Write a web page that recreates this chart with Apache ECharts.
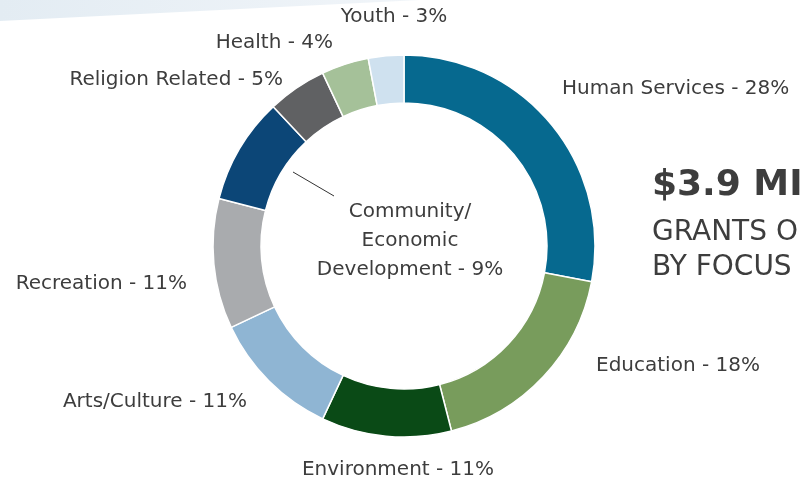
<!DOCTYPE html>
<html>
<head>
<meta charset="utf-8">
<script src="https://cdn.jsdelivr.net/npm/echarts@6/dist/echarts.min.js"></script>
<style>
html,body{margin:0;padding:0;background:#fff;}
#chart{width:809px;height:485px;}
</style>
</head>
<body>
<div id="chart"></div>
<script>
// Data
var categories = ['Human Services','Education','Environment','Arts/Culture','Recreation','Community/\nEconomic\nDevelopment','Religion Related','Health','Youth'];
var shares = [28, 18, 11, 11, 11, 9, 5, 4, 3];
var headline = '$3.9 MI';
var subLines = ['GRANTS O', 'BY FOCUS'];

// Styles
var colors = ['#06698f','#789c5c','#0a4a16','#8fb5d3','#a9abae','#0c4677','#606163','#a5c199','#cfe1ef'];
var labelPos = [
  {x:562, y:89, align:'left'},
  {x:596, y:366, align:'left'},
  {x:398, y:470, align:'center'},
  {x:247, y:402, align:'right'},
  {x:187, y:284, align:'right'},
  {x:410, y:241, align:'center'},
  {x:283, y:80, align:'right'},
  {x:333, y:43, align:'right'},
  {x:394, y:17, align:'center'}
];
var FONT = 'DejaVu Sans';
var TXT = '#3d3d3d';

var chart = echarts.init(document.getElementById('chart'), null, {renderer:'canvas'});
var data = categories.map(function(c,i){
  return {name:c, value:shares[i], itemStyle:{color:colors[i]}};
});
chart.setOption({
  backgroundColor:'#ffffff',
  animation:false,
  graphic:[
    {type:'polygon', z:-10, shape:{points:[[0,0],[420,0],[0,21]]},
     style:{fill:new echarts.graphic.LinearGradient(0,0,1,0,[{offset:0,color:'#e3ecf3'},{offset:1,color:'#f1f5f9'}])}},
    {type:'line', shape:{x1:293,y1:172,x2:334,y2:196}, style:{stroke:'#333',lineWidth:1}},
    {type:'text', left:652, top:168, style:{text:headline, fill:'#3d3d3d', font:'bold 36px "DejaVu Sans"'}},
    {type:'text', left:652, top:215, style:{text:subLines[0]+'\n'+subLines[1], fill:'#3d3d3d', font:'28px "DejaVu Sans"', lineHeight:35}}
  ],
  series:[{
    type:'pie',
    center:[404,246],
    radius:[143,191],
    startAngle:90,
    clockwise:true,
    avoidLabelOverlap:false,
    itemStyle:{borderColor:'#ffffff', borderWidth:1.5},
    label:{
      show:true,
      formatter:function(p){return p.name+' - '+p.value+'%';},
      color:TXT,
      fontFamily:FONT,
      fontSize:20,
      lineHeight:29
    },
    labelLine:{show:false},
    labelLayout:function(p){
      var lp = labelPos[p.dataIndex];
      return {x:lp.x, y:lp.y, align:lp.align, verticalAlign:'middle', hideOverlap:false};
    },
    data:data
  }]
});
</script>
</body>
</html>
